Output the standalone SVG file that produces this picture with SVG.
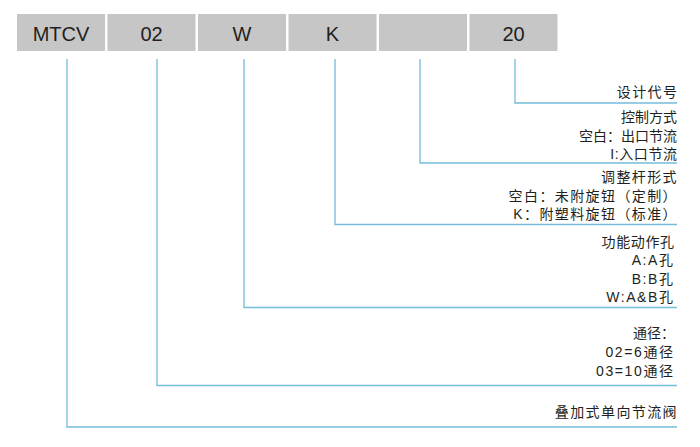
<svg xmlns="http://www.w3.org/2000/svg" width="700" height="447" viewBox="0 0 700 447">
<style>
.box{fill:#c6c6c6}
.bt{font-family:"Liberation Sans","Noto Sans CJK SC",sans-serif;font-size:20px;fill:#231f20;text-anchor:middle}
.t{font-family:"Liberation Sans","Noto Sans CJK SC",sans-serif;font-size:14px;fill:#231f20;text-anchor:end}
.ts{letter-spacing:1.4px}
.tm{letter-spacing:0.6px}
.tl{letter-spacing:1.6px}
.c{fill:none;stroke:#74bcdc;stroke-width:1.3}
</style>
<rect width="700" height="447" fill="#ffffff"/>
<g id="node-mtcv"><rect class="box" x="17" y="14" width="88" height="37"/><text class="bt" x="61" y="40.5">MTCV</text></g>
<g id="node-02"><rect class="box" x="107.5" y="14" width="88" height="37"/><text class="bt" x="151.5" y="40.5">02</text></g>
<g id="node-w"><rect class="box" x="198" y="14" width="88" height="37"/><text class="bt" x="242" y="40.5">W</text></g>
<g id="node-k"><rect class="box" x="288.5" y="14" width="88" height="37"/><text class="bt" x="332.5" y="40.5">K</text></g>
<g id="node-blank"><rect class="box" x="379" y="14" width="88" height="37"/></g>
<g id="node-20"><rect class="box" x="469.5" y="14" width="88" height="37"/><text class="bt" x="513.5" y="40.5">20</text></g>
<g id="connectors">
<polyline class="c" points="515,59 515,103 677,103"/>
<polyline class="c" points="420,59 420,163 677,163"/>
<polyline class="c" points="335,59 335,224.5 677,224.5"/>
<polyline class="c" points="244,59 244,307.5 677,307.5"/>
<polyline class="c" points="157,59 157,385.5 677,385.5"/>
<polyline class="c" points="67,59 67,427 677,427"/>
</g>
<g id="desc-20"><text class="t ts" x="678.4" y="96.5">设计代号</text></g>
<g id="desc-blank">
<text class="t" x="677" y="121.5">控制方式</text>
<text class="t" x="677" y="140.5">空白：出口节流</text>
<text class="t tm" x="677.6" y="159">I:入口节流</text>
</g>
<g id="desc-k">
<text class="t ts" x="678" y="181.5">调整杆形式</text>
<text class="t ts" x="678" y="200.5">空白：未附旋钮（定制）</text>
<text class="t ts" x="678" y="219">K：附塑料旋钮（标准）</text>
</g>
<g id="desc-w">
<text class="t tm" x="674.6" y="246.5">功能动作孔</text>
<text class="t tl" x="674.6" y="265">A:A孔</text>
<text class="t tl" x="674.6" y="283.5">B:B孔</text>
<text class="t tl" x="674.6" y="302">W:A&amp;B孔</text>
</g>
<g id="desc-02">
<text class="t" x="675" y="338">通径：</text>
<text class="t tl" x="674.6" y="357">02=6通径</text>
<text class="t tl" x="674.6" y="376">03=10通径</text>
</g>
<g id="desc-mtcv"><text class="t ts" x="678" y="417">叠加式单向节流阀</text></g>
</svg>
